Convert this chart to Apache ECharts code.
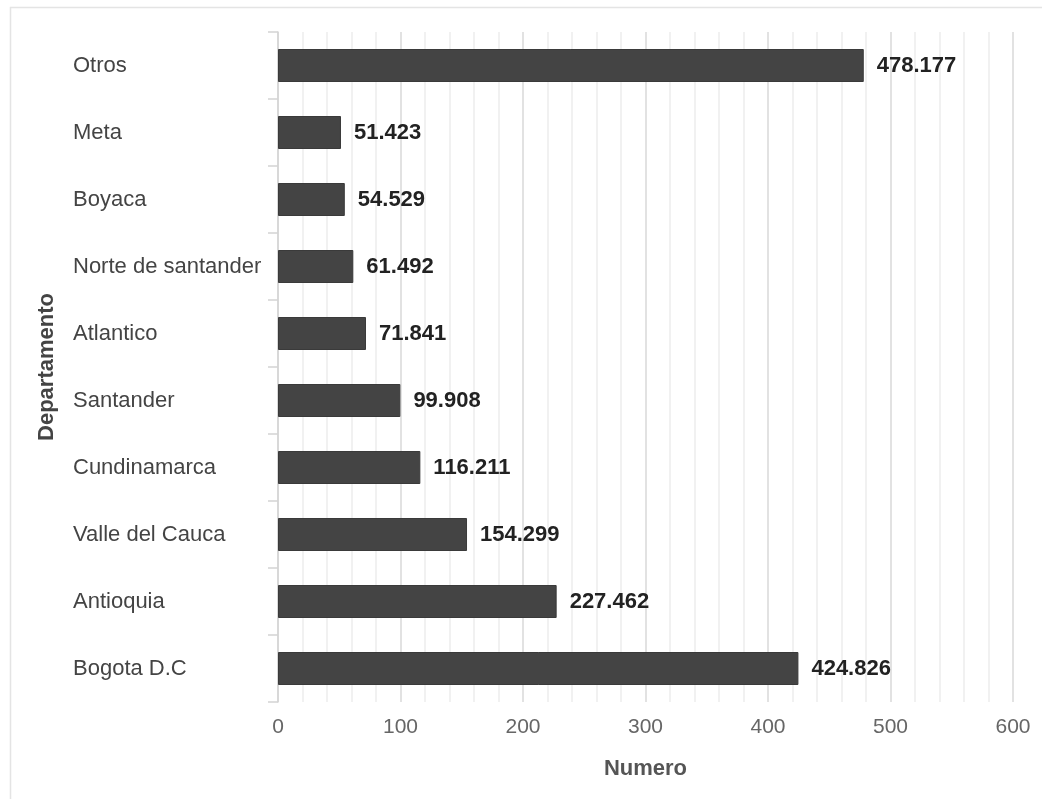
<!DOCTYPE html>
<html>
<head>
<meta charset="utf-8">
<style>
  html, body { margin: 0; padding: 0; background: #fff; }
  #chart { width: 1042px; height: 799px; }
</style>
<script src="https://cdn.jsdelivr.net/npm/echarts@6/dist/echarts.min.js"></script>
</head>
<body>
<div id="chart"></div>
<script>
// Departments, listed bottom to top
const departamentos = ['Bogota D.C', 'Antioquia', 'Valle del Cauca', 'Cundinamarca', 'Santander',
  'Atlantico', 'Norte de santander', 'Boyaca', 'Meta', 'Otros'];
// Count per department
const numero = [424.826, 227.462, 154.299, 116.211, 99.908, 71.841, 61.492, 54.529, 51.423, 478.177];
const xTicks = [0, 100, 200, 300, 400, 500, 600];

const FONT = "'Liberation Sans', Arial, sans-serif";
const chart = echarts.init(document.getElementById('chart'), null, { renderer: 'canvas' });

chart.setOption({
  backgroundColor: '#fff',
  animation: false,
  graphic: [{
    type: 'rect',
    shape: { x: 10.5, y: 7.5, width: 1200, height: 900 },
    style: { fill: 'none', stroke: '#e4e4e4', lineWidth: 1.5 },
    silent: true
  }],
  grid: { left: 278, right: 29, top: 32, bottom: 97 },
  xAxis: {
    type: 'value',
    min: xTicks[0],
    max: xTicks[xTicks.length - 1],
    interval: 100,
    name: 'Numero',
    nameLocation: 'middle',
    nameGap: 56,
    nameTextStyle: { fontFamily: FONT, fontSize: 22, fontWeight: 'bold', color: '#555' },
    axisLine: { show: false },
    axisTick: { show: false },
    axisLabel: { fontFamily: FONT, fontSize: 21, color: '#666', margin: 15 },
    splitLine: { show: true, lineStyle: { color: '#d8d8d8', width: 1.5 } },
    minorTick: { show: false, splitNumber: 5 },
    minorSplitLine: { show: true, lineStyle: { color: '#ededed', width: 1.5 } }
  },
  yAxis: {
    type: 'category',
    data: departamentos,
    name: 'Departamento',
    nameLocation: 'middle',
    nameGap: 220,
    nameRotate: 90,
    nameTextStyle: { fontFamily: FONT, fontSize: 22, fontWeight: 'bold', color: '#444' },
    axisLine: { show: true, lineStyle: { color: '#d4d4d4', width: 1.5 } },
    axisTick: { show: true, length: 10, lineStyle: { color: '#d4d4d4', width: 1.5 } },
    axisLabel: { fontFamily: FONT, fontSize: 22, color: '#444', align: 'left', margin: 205, padding: [3, 0, 0, 0] }
  },
  series: [{
    type: 'bar',
    data: numero,
    barWidth: 33,
    itemStyle: { color: '#444444', borderColor: '#3a3a3a', borderWidth: 1 },
    label: {
      show: true,
      position: 'right',
      distance: 13,
      fontFamily: FONT,
      fontSize: 22,
      fontWeight: 'bold',
      color: '#222',
      padding: [3, 0, 0, 0],
      formatter: p => p.value.toFixed(3)
    }
  }]
});
</script>
</body>
</html>
